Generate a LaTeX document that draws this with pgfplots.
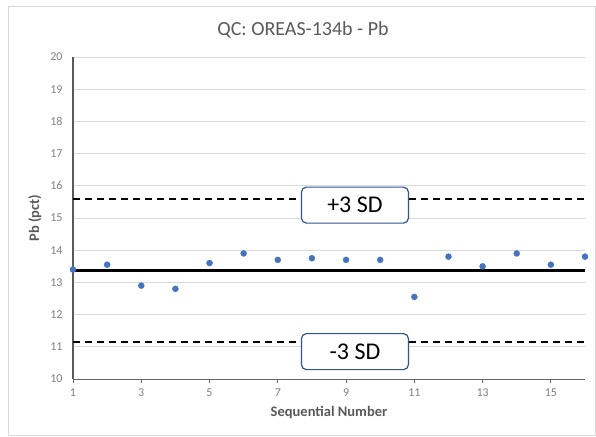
\documentclass[border=0pt]{standalone}
\usepackage{pgfplots}
\pgfplotsset{compat=1.18}
\usepackage{fontspec}
\setmainfont{Carlito}
\definecolor{ptblue}{HTML}{4472C4}
\definecolor{boxblue}{HTML}{2F5597}
\definecolor{txtgrey}{HTML}{595959}
\definecolor{gridgrey}{HTML}{D9D9D9}
\begin{document}
\begin{tikzpicture}
\begin{axis}[
    scale only axis,
    width=512pt, height=322pt,
    xmin=1, xmax=16,
    ymin=10, ymax=20,
    xtick={1,3,...,15},
    ytick={10,11,...,20},
    axis x line=bottom, axis y line=left,
    axis line style={-, txtgrey, line width=1.2pt},
    x axis line style={line width=1pt, black!60},
    ymajorgrids=true,
    grid style={gridgrey, line width=0.8pt},
    tick style={black!60, line width=1pt},
    xtick align=outside,
    major tick length=4pt,
    ytick style={draw=none},
    tick label style={font=\fontsize{12}{13}\selectfont, text=black!50},
    yticklabel style={xshift=-5pt},
    xticklabel style={yshift=-2pt},
    /pgf/number format/assume math mode=true,
    xlabel={\bfseries Sequential Number},
    ylabel={\bfseries Pb (pct)},
    label style={font=\fontsize{14.5}{16}\selectfont, text=txtgrey},
    xlabel style={yshift=-3pt},
    ylabel style={yshift=2pt},
    clip=false,
]
% mean and +/- 3 SD
\addplot[black, line width=2.2pt] coordinates {(1,13.37) (16,13.37)};
\addplot[black, line width=1.4pt, dash pattern=on 7pt off 5pt] coordinates {(1,15.59) (16,15.59)};
\addplot[black, line width=1.4pt, dash pattern=on 7pt off 5pt] coordinates {(1,11.15) (16,11.15)};
% results
\addplot[only marks, mark=*, mark size=3pt, ptblue, mark options={draw=ptblue, fill=ptblue}] coordinates {
    (1,13.4) (2,13.55) (3,12.9) (4,12.8) (5,13.6) (6,13.9) (7,13.7) (8,13.75)
    (9,13.7) (10,13.7) (11,12.55) (12,13.8) (13,13.5) (14,13.9) (15,13.55) (16,13.8)
};
\node[draw=boxblue, line width=1.2pt, fill=white, rounded corners=5pt,
      minimum width=107pt, minimum height=36pt, font=\fontsize{24}{26}\selectfont]
      at (axis cs:9.26,15.40) {+3 SD};
\node[draw=boxblue, line width=1.2pt, fill=white, rounded corners=5pt,
      minimum width=107pt, minimum height=36pt, font=\fontsize{24}{26}\selectfont]
      at (axis cs:9.26,10.85) {-3 SD};
\end{axis}
\node[font=\fontsize{20}{22}\selectfont, text=txtgrey] at (230pt,349pt) {QC: OREAS-134b - Pb};
\draw[gridgrey, line width=0.8pt] (-65pt,-56pt) rectangle (522pt,373pt);
\path[use as bounding box] (-73pt,-57pt) rectangle (523pt,379pt);
\end{tikzpicture}
\end{document}
